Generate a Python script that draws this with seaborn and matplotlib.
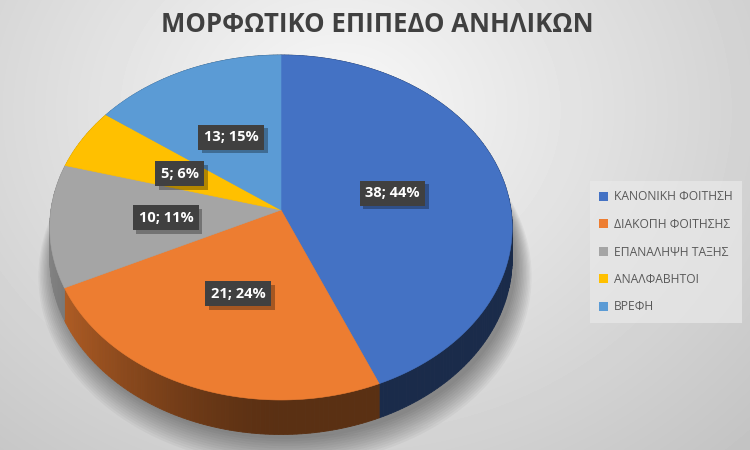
import numpy as np
import matplotlib
matplotlib.use('Agg')
import matplotlib.pyplot as plt
import matplotlib.patheffects as pe
from matplotlib.patches import Polygon, Patch
import seaborn as sns

categories = ['ΚΑΝΟΝΙΚΗ ΦΟΙΤΗΣΗ', 'ΔΙΑΚΟΠΗ ΦΟΙΤΗΣΗΣ', 'ΕΠΑΝΑΛΗΨΗ ΤΑΞΗΣ', 'ΑΝΑΛΦΑΒΗΤΟΙ', 'ΒΡΕΦΗ']
counts = [38, 21, 10, 5, 13]
colors = ['#4472C4', '#ED7D31', '#A5A5A5', '#FFC000', '#5B9BD5']
title = 'ΜΟΡΦΩΤΙΚΟ ΕΠΙΠΕΔΟ ΑΝΗΛΙΚΩΝ'

sns.set_theme(style='white')
plt.rcParams['font.family'] = ['Open Sans', 'DejaVu Sans']

total = sum(counts)
labels = [f'{c}; {int(c / total * 100 + 0.5)}%' for c in counts]
palette = sns.color_palette(colors)

# tilted-disc projection (pixel space)
CX, CY, RX, RY, K, DEPTH = 281, 210, 230, 170.7, 0.1015, 31


def project(x, y, drop=0.0):
    x = np.asarray(x, dtype=float)
    y = np.asarray(y, dtype=float)
    w = 1 + K * y
    return CX + RX * x / w, CY - RY * y / w + drop / w


fig = plt.figure(figsize=(7.5, 4.5), dpi=100)

# pie geometry from matplotlib on a helper axis
hax = fig.add_axes([0, 0, 0.05, 0.05])
wedges, texts = hax.pie(counts, startangle=90, counterclock=False,
                        labels=labels, labeldistance=0.5)
geo = [(w.theta1, w.theta2) for w in wedges]
lab_pos = [t.get_position() for t in texts]
hax.remove()

ax = fig.add_axes([0, 0, 1, 1])

# background radial gradient
yy, xx = np.mgrid[0:450, 0:750]
d = np.sqrt(((xx - 340) / 520) ** 2 + ((yy - 110) / 430) ** 2)
bg = np.clip(0.975 - 0.19 * d, 0, 1)
ax.imshow(bg, cmap='gray', vmin=0, vmax=1, extent=(0, 750, 450, 0), zorder=0)

# soft shadow under the pie
full = np.linspace(0, 2 * np.pi, 200)
for i in range(12):
    s = 1.0 + 0.006 * i
    sx, sy = project(np.cos(full) * s, np.sin(full) * s, DEPTH + 4 + i)
    ax.add_patch(Polygon(np.column_stack([sx + 4, sy]), closed=True,
                         fc='black', ec='none', alpha=0.035, zorder=1))

# sides
for (t1, t2), col in zip(geo, palette):
    ang = np.radians(np.linspace(t1, t2, max(int(t2 - t1), 2) + 1))
    for a, b in zip(ang[:-1], ang[1:]):
        am = 0.5 * (a + b)
        shade = 0.38 + 0.42 * max(0.0, -np.cos(am)) ** 1.5
        c = tuple(np.clip(np.array(col) * shade, 0, 1))
        seg = np.array([a, b])
        tx, ty = project(np.cos(seg), np.sin(seg))
        bx, by = project(np.cos(seg), np.sin(seg), DEPTH)
        pts = np.column_stack([np.r_[tx, bx[::-1]], np.r_[ty, by[::-1]]])
        ax.add_patch(Polygon(pts, closed=True, fc=c, ec=c, lw=0.6, zorder=2))

# top faces
for (t1, t2), col in zip(geo, palette):
    ang = np.radians(np.linspace(t1, t2, 200))
    px, py = project(np.r_[0, np.cos(ang)], np.r_[0, np.sin(ang)])
    ax.add_patch(Polygon(np.column_stack([px, py]), closed=True,
                         fc=col, ec=col, lw=0.4, zorder=3))

# data labels
for (lx, ly), txt in zip(lab_pos, labels):
    x, y = project(lx, ly)
    t = ax.text(x, y, txt, ha='center', va='center', fontsize=10.5, weight='bold',
                color='white', zorder=5,
                bbox=dict(boxstyle='square,pad=0.38', fc='#404040', ec='none'))
    t.get_bbox_patch().set_path_effects(
        [pe.SimplePatchShadow(offset=(2.5, -2.5), shadow_rgbFace='black', alpha=0.3),
         pe.Normal()])

ax.text(377, 24, title, ha='center', va='center', fontsize=18.5, weight='bold',
        color='#404040', zorder=5)

handles = [Patch(fc=c, ec='none') for c in palette]
leg = ax.legend(handles, categories, loc='center left', bbox_to_anchor=(0.783, 0.44),
                fontsize=8.7, labelcolor='#595959', frameon=True, fancybox=False,
                handlelength=0.75, handleheight=0.75, handletextpad=0.45,
                labelspacing=1.2, borderpad=0.8, borderaxespad=0.2)
leg.get_frame().set_facecolor('#e9e9e9')
leg.get_frame().set_edgecolor('none')
leg.get_frame().set_alpha(0.7)

ax.set_xlim(0, 750)
ax.set_ylim(450, 0)
ax.set_aspect('auto')
ax.axis('off')

fig.savefig('out.png', dpi=100)
